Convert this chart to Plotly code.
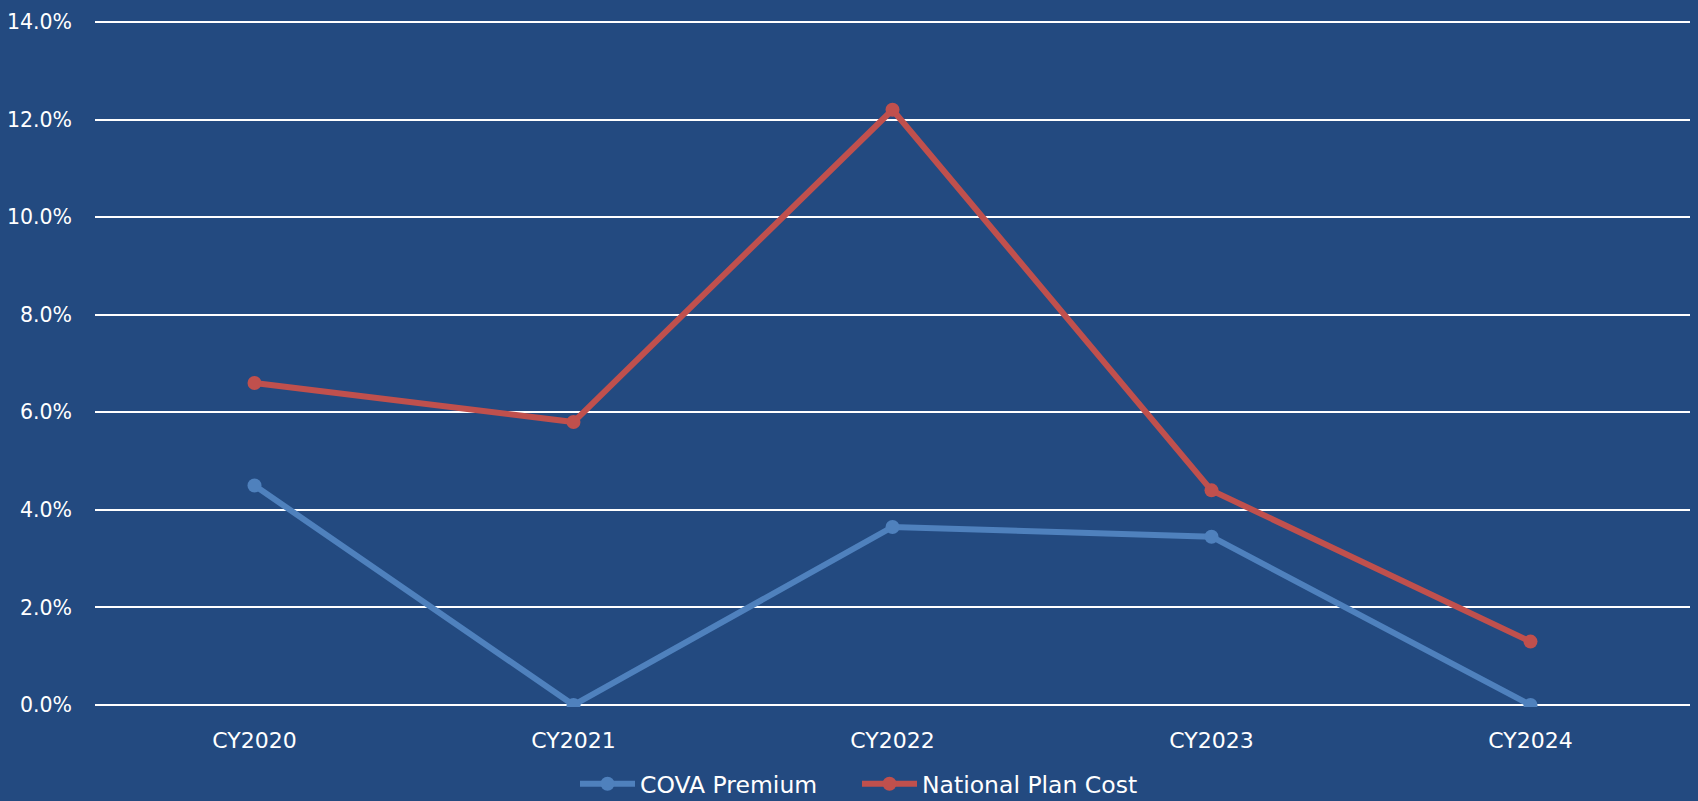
import plotly.graph_objects as go

categories = ["CY2020", "CY2021", "CY2022", "CY2023", "CY2024"]
cova_premium = [0.045, 0.0, 0.0365, 0.0345, 0.0]
national_plan_cost = [0.066, 0.058, 0.122, 0.044, 0.013]
y_ticks = [0.0, 0.02, 0.04, 0.06, 0.08, 0.10, 0.12, 0.14]

FONT = "DejaVu Sans, Century Gothic, sans-serif"

fig = go.Figure()
fig.add_trace(go.Scatter(
    x=categories, y=cova_premium, name="COVA Premium", mode="lines+markers",
    line=dict(color="#4F81BD", width=6), marker=dict(size=14, color="#4F81BD"),
))
fig.add_trace(go.Scatter(
    x=categories, y=national_plan_cost, name="National Plan Cost", mode="lines+markers",
    line=dict(color="#C0504D", width=6), marker=dict(size=14, color="#C0504D"),
))

fig.update_layout(
    width=1698, height=801,
    margin=dict(l=95, r=8, t=20, b=94, autoexpand=False),
    paper_bgcolor="#234A80",
    plot_bgcolor="#234A80",
    font=dict(family=FONT, size=21, color="white"),
    showlegend=True,
    legend=dict(orientation="h", xref="container", x=575 / 1698, xanchor="left",
                yref="container", y=17 / 801, yanchor="middle",
                font=dict(size=23.5, color="white"), itemwidth=55,
                entrywidth=212, bgcolor="rgba(0,0,0,0)"),
    xaxis=dict(range=[-0.5, 4.5], showgrid=False, zeroline=False, showline=False,
               ticks="", tickfont=dict(size=22, color="white"), ticklabelstandoff=18),
    yaxis=dict(range=[-0.0004, 0.1404], tickvals=y_ticks, tickformat=".1%",
               showgrid=True, gridcolor="white", gridwidth=2,
               zeroline=False, showline=False, ticks="",
               tickfont=dict(size=20.5, color="white"), ticklabelstandoff=22),
)

fig.write_html("out.html")
